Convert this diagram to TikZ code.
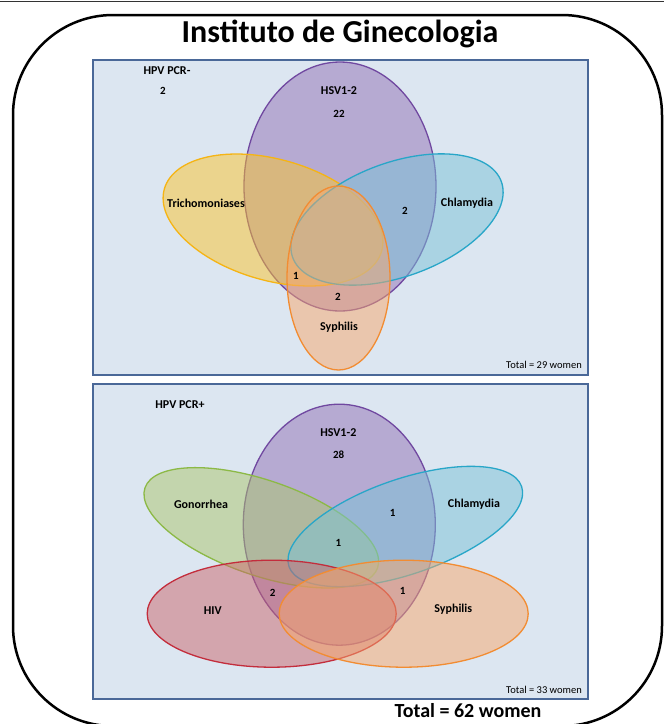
\documentclass[tikz,border=0pt]{standalone}
\usepackage{fontspec}
\setmainfont{Carlito}
\usetikzlibrary{shapes.geometric}
\definecolor{panelfill}{RGB}{220,230,241}
\definecolor{panelline}{RGB}{74,104,152}
\definecolor{hsvfill}{RGB}{146,112,181}
\definecolor{hsvline}{RGB}{112,72,160}
\definecolor{yelfill}{RGB}{250,196,43}
\definecolor{yelline}{RGB}{245,180,20}
\definecolor{cyafill}{RGB}{122,194,215}
\definecolor{cyaline}{RGB}{40,166,200}
\definecolor{orafill}{RGB}{248,168,107}
\definecolor{oraline}{RGB}{242,140,50}
\definecolor{grefill}{RGB}{172,198,107}
\definecolor{greline}{RGB}{140,185,70}
\definecolor{redfill}{RGB}{204,102,107}
\definecolor{redline}{RGB}{195,45,60}
\tikzset{
  panel/.style={draw=panelline, line width=1.5pt, fill=panelfill, rectangle, inner sep=0pt, anchor=north west},
  venn/.style={ellipse, inner sep=0pt, line width=1.3pt, fill opacity=0.5, draw opacity=1},
  lab/.style={font=\bfseries\fontsize{12}{14}\selectfont, text=black, inner sep=0pt},
  num/.style={font=\bfseries\fontsize{11}{13}\selectfont, text=black, inner sep=0pt},
  tot/.style={font=\fontsize{10.5}{12}\selectfont, text=black, inner sep=0pt, anchor=east},
}
\begin{document}
\begin{tikzpicture}[x=1pt,y=-1pt]
\useasboundingbox (0,0) rectangle (664,724);
\fill[white] (0,0) rectangle (664,724);
\draw[line width=1pt, black!80] (0,1) -- (664,1);
\draw[line width=2.5pt, rounded corners=100pt] (13,15) rectangle (662,726);
\node[font=\bfseries\fontsize{32}{36}\selectfont, inner sep=0pt] (title) at (340,34) {Instituto de Ginecologia};
% top panel
\node[panel, minimum width=495pt, minimum height=315pt] (p1) at (92,59) {};
\node[venn, draw=hsvline, fill=hsvfill, minimum width=192pt, minimum height=249pt] (h1) at (340,186.5) {};
\node[venn, draw=yelline, fill=yelfill, minimum width=226pt, minimum height=121pt, rotate=-16] (t1) at (273,220) {};
\node[venn, draw=cyaline, fill=cyafill, minimum width=222pt, minimum height=114pt, rotate=20] (c1) at (397,219.5) {};
\node[venn, draw=oraline, fill=orafill, minimum width=103pt, minimum height=184pt] (s1) at (338.5,278) {};
\node[lab] (l1) at (167,71) {HPV PCR-};
\node[num] (n1) at (163,91) {2};
\node[lab] (l2) at (339,91) {HSV1-2};
\node[num] (n2) at (339,114) {22};
\node[lab] (l3) at (206,203) {Trichomoniases};
\node[lab] (l4) at (467,203) {Chlamydia};
\node[num] (n3) at (405,211) {2};
\node[num] (n4) at (296,276) {1};
\node[num] (n5) at (338,297) {2};
\node[lab] (l5) at (339,327) {Syphilis};
\node[tot] (t29) at (582,365) {Total = 29 women};
% bottom panel
\node[panel, minimum width=495pt, minimum height=315pt] (p2) at (92,383) {};
\node[venn, draw=hsvline, fill=hsvfill, minimum width=192pt, minimum height=241pt] (h2) at (339.3,524.7) {};
\node[venn, draw=greline, fill=grefill, minimum width=246pt, minimum height=95pt, rotate=-19] (g2) at (261.3,527.8) {};
\node[venn, draw=cyaline, fill=cyafill, minimum width=246pt, minimum height=95pt, rotate=19] (c2) at (405.3,526.5) {};
\node[venn, draw=redline, fill=redfill, minimum width=249pt, minimum height=107pt] (r2) at (271.7,613.7) {};
\node[venn, draw=oraline, fill=orafill, minimum width=249pt, minimum height=107pt] (s2) at (403.7,613.7) {};
\node[lab] (m1) at (180,405) {HPV PCR+};
\node[lab] (m2) at (338.3,432.7) {HSV1-2};
\node[num] (k1) at (338.7,455) {28};
\node[lab] (m3) at (201,504) {Gonorrhea};
\node[lab] (m4) at (474,504) {Chlamydia};
\node[num] (k2) at (392.7,513.3) {1};
\node[num] (k3) at (338.3,543.3) {1};
\node[num] (k4) at (272.7,592.7) {2};
\node[num] (k5) at (402.7,590.7) {1};
\node[lab] (m5) at (212.7,610.7) {HIV};
\node[lab] (m6) at (453.3,609.3) {Syphilis};
\node[tot] (t33) at (582,690) {Total = 33 women};
\node[font=\bfseries\fontsize{20}{24}\selectfont, inner sep=0pt] (grand) at (468,711) {Total = 62 women};
\end{tikzpicture}
\end{document}
